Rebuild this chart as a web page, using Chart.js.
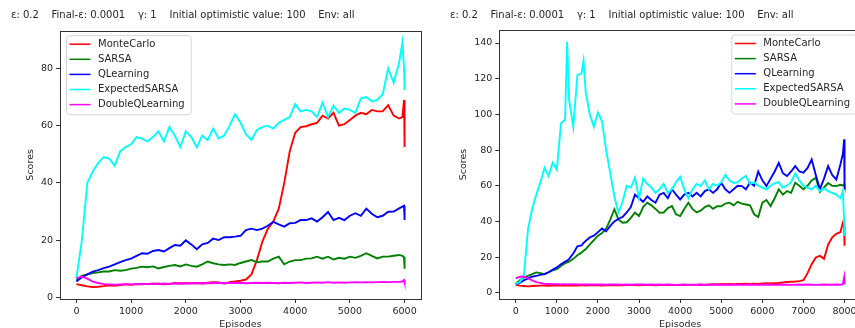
<!DOCTYPE html>
<html>
<head>
<meta charset="utf-8">
<script src="https://cdn.jsdelivr.net/npm/chart.js@4.4.1/dist/chart.umd.min.js"></script>
<style>
  body { margin: 0; background: #fff; overflow: hidden; width: 855px; height: 328px; position: relative; }
  canvas { position: absolute; top: 0; }
  #leftChart { left: 0; }
  #rightChart { left: 440px; }
</style>
</head>
<body>
<canvas id="leftChart" width="430" height="340"></canvas>
<canvas id="rightChart" width="430" height="340"></canvas>
<script>
const titleText = "ε: 0.2    Final-ε: 0.0001    γ: 1    Initial optimistic value: 100    Env: all";
const seriesNames = ["MonteCarlo", "SARSA", "QLearning", "ExpectedSARSA", "DoubleQLearning"];
const seriesColors = ["#ff0000", "#008000", "#0000ff", "#00ffff", "#ff00ff"];

// left panel: 6000 episodes
const episodesLeft = [...Array.from({ length: 60 }, (_, i) => i * 100), 5960, 5990, 6000];
const monteCarloLeft = [4.6,4.2,3.8,3.6,3.7,3.9,4.2,4.0,4.3,4.5, 4.4,4.6,4.5,4.7,4.6,4.8,4.5,4.7,5.0,4.8,
  5.0,4.9,5.0,4.8,5.1,5.3,5.2,4.8,5.3,5.5, 5.8,6.2,8.0,13,19.5,24,26.5,31,40,51,
  57.5,59.5,59.8,60.5,61,63.5,62.5,64.5,60,60.5, 62,63.5,64.5,64,65.5,65,65,67.2,63.5,62.5, 63,69,52.5];
const sarsaLeft = [6,7.5,8,8.5,8.7,9,9,9.5,9.3,9.5, 10,10.3,10.7,10.5,10.8,10.1,10.6,11,11.3,10.8,
  11.5,11,10.7,11.5,12.5,11.9,11.5,11.3,11.5,11.3, 12,12.5,13,12.3,12.5,12.5,13.5,14.2,11.5,12.5,
  13,13,13.5,13.6,14.2,13.5,14.2,13.2,13.8,13.5, 14.2,13.8,14.5,15.4,14.5,13.6,14.2,14.2,14.5,14.8, 14.5,14,10];
const qLearningLeft = [5.5,7,8,9,9.5,10.2,10.7,11.5,12.3,13, 13.5,14.5,15.4,15.2,16.2,16.5,16,17.2,18.3,18,
  19.9,18.5,16.8,18.5,19,20.5,20,21,21,21.2, 21.5,23.5,24,23.5,24,25,26.4,25.5,24.7,25.9,
  26,27,27,27.6,26.5,28,29.8,27,27.8,27, 28.5,29.4,28.5,31,29.2,28,28.5,29.9,30,31.1, 31.7,32,27];
const expectedSarsaLeft = [6.6,20,40,44,47,49,48.5,46,51,52.5, 53.5,56,55.5,54.5,56,58,54.5,59.5,56.5,52.5,
  58,56,52.5,56.5,55,59,55.5,56.5,60,64, 61,57,55,58.5,59.5,60,59,61,62,63,
  67.5,65,65.5,65,63,68,63,67,64.5,66, 65.5,64.5,69.5,70,68.5,69,71,80,75,82, 89,80,72.5];
const doubleQLeft = [6.6,7.2,6.5,5.5,5,4.6,4.5,4.4,4.5,4.6, 4.5,4.6,4.7,4.6,4.8,4.7,4.8,4.7,4.8,4.9,
  4.8,4.9,4.9,5.0,4.9,5.0,5.1,4.9,5.0,5.0, 5.1,4.9,5.0,5.1,5.0,5.1,5.0,4.9,5.1,5.0,
  5.1,5.2,5.0,5.1,5.2,5.1,5.3,5.1,5.2,5.1, 5.2,5.3,5.2,5.3,5.2,5.3,5.4,5.3,5.4,5.4, 5.5,6.0,5.2];
const xTicksLeft = [0, 1000, 2000, 3000, 4000, 5000, 6000];
const yTicksLeft = [0, 20, 40, 60, 80];

// right panel: 8000 episodes
const episodesRight = [...Array.from({ length: 80 }, (_, i) => i * 100), 1250, 1650, 7960, 7990, 8000].sort((a, b) => a - b);
const monteCarloRight = [4.5,4,3.8,3.6,3.8,3.9,4.0,4.1,3.9,4.0,4.1,4.2,4.1, 4.1, 4.0,4.2,4.1,4.2, 4.2,
  4.1,4.2,4.3,4.2,4.1,4.2,4.3,4.2,4.3,4.2, 4.3,4.4,4.3,4.2,4.3,4.4,4.3,4.2,4.3,4.4,
  4.3,4.4,4.3,4.4,4.3,4.4,4.5,4.4,4.5,4.4, 4.6,4.8,4.7,4.9,4.8,4.9,4.8,5.0,4.9,5.1,
  5.0,5.1,5.0,5.2,5.3,5.2,5.4,5.5,5.8,6.0, 6.2,6.3,6.5,7,11,16,19.8,20.7,19,27, 31,33,34, 39.3,37,26.3];
const sarsaRight = [4.9,7,8.6,9.5,10.5,11.4,11,10.4,11.5,12.5,13.2,15,16.5, 17, 17.5,19,21,22.5, 23.5,
  24.4,27,29.5,32,33.5,36,41,46.8,41,39.3, 39.5,42,44.9,43,48,50.5,49,47,44.9,45,
  47.5,48.6,44,43,47,50.5,47,45,46,48, 49,47,48.5,48.5,50,50.5,49,51,50,49.5,
  49,44,42.5,50.5,52,48.6,53,58,55,57, 56,61.7,60,58,60,63,64.5,56.5,59,61.5, 60,59.8,60.5, 60,61,60];
const qLearningRight = [4.9,5.5,7,8,9,9.5,10,10.4,11.5,13,14.2,16,17.5, 18, 19,22,26,26.5, 28,
  29,31,32,34,36,34.5,37.5,40,41.5,42.5, 45,48,55,53,51,54,52,50.5,55,56,
  53,58,55,52.3,55,56,54,56,54,57, 58,56,58,61.7,58,56,58,60,59.8,58,
  61.7,60,68,63,59.8,64,68,72.8,67,65.4, 68,71,68,67.3,70,74.7,66,58,64,71, 66,63.5,72, 78,86,58];
const expectedSarsaRight = [5,6,10,36,47,55,62,70,65.5,73,69,95,97, 140.5, 108,93,122,123, 130,
  113,100,93,101,96,80,67,54,45,51, 60,59,64.5,53,64,61,59,56,58,61,
  56,58,62,65,58,53,58,61,59.8,63, 58,61,60,62,66,63,61.5,62,64,65.5,
  61,62,60,59,58,60,61.5,62,59,60, 62,67,63,60,59,58,60,57,58.5,57, 56,55,53, 57,40,31.8];
const doubleQRight = [8,9,9,8,7,6,5.5,5,4.9,4.8,4.8,4.7,4.8, 4.7, 4.7,4.8,4.7,4.6, 4.7,
  4.6,4.7,4.6,4.7,4.6,4.5,4.6,4.7,4.6,4.5, 4.6,4.5,4.6,4.7,4.6,4.5,4.6,4.5,4.6,4.5,
  4.6,4.5,4.4,4.5,4.6,4.5,4.4,4.5,4.6,4.5, 4.4,4.5,4.6,4.5,4.4,4.5,4.6,4.5,4.4,4.5,
  4.6,4.5,4.4,4.5,4.6,4.5,4.4,4.5,4.6,4.5, 4.4,4.5,4.6,4.5,4.6,4.5,4.4,4.5,4.6,4.5, 4.5,4.6,4.5, 4.8,8.6,4.8];
const xTicksRight = [0, 1000, 2000, 3000, 4000, 5000, 6000, 7000, 8000];
const yTicksRight = [0, 20, 40, 60, 80, 100, 120, 140];

const font = "'DejaVu Sans', sans-serif";
const textColor = "#262626";

// box round the plot, like matplotlib spines
const framePlugin = {
  id: "frame",
  afterDraw(chart) {
    const { ctx, chartArea: a } = chart;
    ctx.save();
    ctx.strokeStyle = "#333";
    ctx.lineWidth = 1;
    ctx.strokeRect(Math.round(a.left) + 0.5, Math.round(a.top) + 0.5, Math.round(a.right - a.left), Math.round(a.bottom - a.top));
    ctx.restore();
  }
};

// matplotlib style legend box drawn inside the axes
const boxLegend = {
  id: "boxLegend",
  afterDraw(chart, args, opts) {
    const { ctx, chartArea: a } = chart;
    ctx.save();
    ctx.font = "10px " + font;
    const tw = Math.max(...chart.data.datasets.map(d => ctx.measureText(d.label).width));
    const w = 32 + tw + 6, h = 79;
    const x0 = opts.side === "left" ? a.left + 6 : a.right - 5 - w;
    const y0 = a.top + 4.5;
    ctx.beginPath();
    ctx.roundRect(x0 + 0.5, y0 + 0.5, w, h, 3);
    ctx.fillStyle = "rgba(255,255,255,0.8)";
    ctx.fill();
    ctx.strokeStyle = "#d6d6d6";
    ctx.lineWidth = 1;
    ctx.stroke();
    chart.data.datasets.forEach((d, i) => {
      const y = y0 + 9 + i * 15.1;
      ctx.strokeStyle = d.borderColor;
      ctx.lineWidth = 1.5;
      ctx.beginPath();
      ctx.moveTo(x0 + 3.5, y);
      ctx.lineTo(x0 + 24.5, y);
      ctx.stroke();
      ctx.fillStyle = textColor;
      ctx.textBaseline = "middle";
      ctx.fillText(d.label, x0 + 32, y);
    });
    ctx.restore();
  }
};

function makeChart(id, episodes, series, xTicks, yTicks, xr, yr, p) {
  const datasets = series.map((vals, i) => ({
    label: seriesNames[i],
    data: vals.map((v, j) => ({ x: episodes[j], y: v })),
    borderColor: seriesColors[i],
    borderWidth: 1.9,
    pointRadius: 0,
    tension: 0,
    order: series.length - i
  }));
  return new Chart(document.getElementById(id), {
    type: "line",
    data: { datasets },
    plugins: [framePlugin, boxLegend],
    options: {
      responsive: false,
      animation: false,
      layout: { padding: { left: p.padLeft, right: 9, top: 0, bottom: 0 } },
      plugins: {
        legend: { display: false },
        tooltip: { enabled: false },
        boxLegend: { side: p.legendSide },
        title: {
          display: true,
          text: titleText,
          align: "start",
          color: textColor,
          font: { family: font, size: 10, weight: "normal", lineHeight: 1.2 },
          padding: { top: 9.5, bottom: p.titleBottom }
        }
      },
      scales: {
        x: {
          type: "linear",
          min: xr[0], max: xr[1],
          afterBuildTicks: s => { s.ticks = xTicks.map(v => ({ value: v })); },
          afterFit: s => { s.height = 41; },
          grid: { drawOnChartArea: false, drawTicks: true, tickLength: 4, color: "#333" },
          border: { display: false },
          ticks: { color: textColor, font: { family: font, size: 9.5 }, padding: 3, maxRotation: 0, callback: v => String(v) },
          title: { display: true, text: "Episodes", color: textColor, font: { family: font, size: 9.5 }, padding: { bottom: 9.5 } }
        },
        y: {
          type: "linear",
          min: yr[0], max: yr[1],
          afterBuildTicks: s => { s.ticks = yTicks.map(v => ({ value: v })); },
          afterFit: s => { s.width = p.yWidth; },
          grid: { drawOnChartArea: false, drawTicks: true, tickLength: 4, color: "#333" },
          border: { display: false },
          ticks: { color: textColor, font: { family: font, size: 9.5 }, padding: 3, callback: v => String(v) },
          title: { display: true, text: "Scores", color: textColor, font: { family: font, size: 9.5 }, padding: { top: p.yTitlePad } }
        }
      }
    }
  });
}

makeChart("leftChart", episodesLeft,
  [monteCarloLeft, sarsaLeft, qLearningLeft, expectedSarsaLeft, doubleQLeft],
  xTicksLeft, yTicksLeft, [-300, 6300], [-0.6, 93.2],
  { padLeft: 11, yWidth: 49, titleBottom: 9.2, yTitlePad: 14.3, legendSide: "left" });

makeChart("rightChart", episodesRight,
  [monteCarloRight, sarsaRight, qLearningRight, expectedSarsaRight, doubleQRight],
  xTicksRight, yTicksRight, [-400, 8400], [-3.5, 147.3],
  { padLeft: 10, yWidth: 49.3, titleBottom: 8.5, yTitlePad: 7.6, legendSide: "right" });
</script>
</body>
</html>
